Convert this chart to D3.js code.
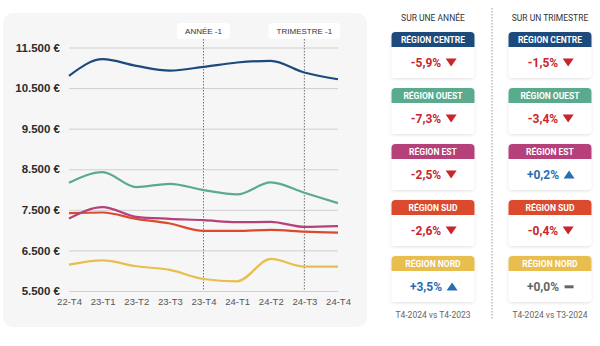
<!DOCTYPE html>
<html>
<head>
<meta charset="utf-8">
<script src="https://cdnjs.cloudflare.com/ajax/libs/d3/7.8.5/d3.min.js"></script>
<style>
  html, body { margin: 0; padding: 0; background: #fff; }
  svg { display: block; }
  .tick line { stroke: #cfcfcf; }
  .domain { display: none; }
</style>
</head>
<body>
<div id="chart"></div>
<script>
var quarters = ['22-T4', '23-T1', '23-T2', '23-T3', '23-T4', '24-T1', '24-T2', '24-T3', '24-T4'];
var yTicks = [5500, 6500, 7500, 8500, 9500, 10500, 11500];

var centre = [10800, 11212, 11047, 10932, 11023, 11130, 11171, 10883, 10718];
var ouest  = [8167, 8430, 8060, 8142, 7986, 7879, 8175, 7920, 7665];
var est    = [7286, 7566, 7327, 7278, 7245, 7195, 7204, 7080, 7097];
var sud    = [7418, 7434, 7278, 7163, 6981, 6981, 7006, 6965, 6940];
var nord   = [6150, 6257, 6109, 6019, 5796, 5739, 6290, 6101, 6101];

var regions = ['RÉGION CENTRE', 'RÉGION OUEST', 'RÉGION EST', 'RÉGION SUD', 'RÉGION NORD'];
var regionColors = ['#1c4a7c', '#5aab8e', '#b5407a', '#dc4a2d', '#e8be4e'];
var evolAnnee = [-5.9, -7.3, -2.5, -2.6, 3.5];
var evolTrimestre = [-1.5, -3.4, 0.2, -0.4, 0.0];

var markers = [
  { quarter: '23-T4', label: 'ANNÉE -1' },
  { quarter: '24-T3', label: 'TRIMESTRE -1' }
];

var W = 600, H = 346;
var svg = d3.select('#chart').append('svg').attr('width', W).attr('height', H);

// Left panel
svg.append('rect')
  .attr('x', 3).attr('y', 13).attr('width', 364).attr('height', 314)
  .attr('rx', 10).attr('fill', '#f6f6f6');

var x = d3.scalePoint().domain(quarters).range([69, 338]);
var y = d3.scaleLinear().domain([5500, 11500]).range([291, 47.5]);

var fmt = d3.formatLocale({ decimal: ',', thousands: '.', grouping: [3], currency: ['', ' €'] }).format('$,');

var yAxis = svg.append('g')
  .attr('transform', 'translate(69,0)')
  .call(d3.axisLeft(y).tickValues(yTicks).tickSize(-269).tickPadding(9).tickFormat(fmt));
yAxis.selectAll('text')
  .attr('fill', '#2b2b2b')
  .style('font-family', '"Liberation Sans", Arial, sans-serif')
  .style('font-size', '11.5px')
  .style('font-weight', 'bold');

var xAxis = svg.append('g')
  .attr('transform', 'translate(0,291)')
  .call(d3.axisBottom(x).tickSize(0).tickPadding(7));
xAxis.selectAll('text')
  .attr('fill', '#555')
  .style('font-family', '"Liberation Sans", Arial, sans-serif')
  .style('font-size', '9.5px');

// Reference markers
markers.forEach(function(m) {
  var mx = x(m.quarter);
  svg.append('line')
    .attr('x1', mx).attr('x2', mx).attr('y1', 39).attr('y2', 291)
    .attr('stroke', '#777').attr('stroke-width', 1).attr('stroke-dasharray', '1.5,1.5');
  var t = svg.append('text')
    .attr('x', mx).attr('y', 34)
    .attr('text-anchor', 'middle')
    .attr('fill', '#333')
    .style('font-family', '"Liberation Sans", Arial, sans-serif')
    .style('font-size', '8px')
    .text(m.label);
  var w = t.node().getComputedTextLength() + 16;
  svg.insert('rect', function() { return t.node(); })
    .attr('x', mx - w / 2).attr('y', 23).attr('width', w).attr('height', 16)
    .attr('rx', 4).attr('fill', '#fff');
});

var line = d3.line()
  .x(function(d, i) { return x(quarters[i]); })
  .y(function(d) { return y(d); })
  .curve(d3.curveMonotoneX);

[centre, ouest, sud, est, nord].forEach(function(series, k) {
  var colorIdx = [0, 1, 3, 2, 4][k];
  svg.append('path')
    .datum(series)
    .attr('d', line)
    .attr('fill', 'none')
    .attr('stroke', regionColors[colorIdx])
    .attr('stroke-width', 2.2)
    .attr('stroke-linejoin', 'round');
});

// Right panel: variation cards
var defs = svg.append('defs');
var shadow = defs.append('filter').attr('id', 'shadow')
  .attr('x', '-20%').attr('y', '-20%').attr('width', '140%').attr('height', '150%');
shadow.append('feDropShadow')
  .attr('dx', 0).attr('dy', 1).attr('stdDeviation', 1.5)
  .attr('flood-color', '#000').attr('flood-opacity', 0.12);

svg.append('line')
  .attr('x1', 492).attr('x2', 492).attr('y1', 8).attr('y2', 320)
  .attr('stroke', '#999').attr('stroke-width', 1).attr('stroke-dasharray', '1.5,1.5');

var columns = [
  { cx: 433, title: 'SUR UNE ANNÉE', values: evolAnnee, footer: 'T4-2024 vs T4-2023' },
  { cx: 550, title: 'SUR UN TRIMESTRE', values: evolTrimestre, footer: 'T4-2024 vs T3-2024' }
];

var cardW = 83, cardH = 46, headH = 15, cardTop = 32, cardStep = 56;
var font = 'Roboto, "Noto Sans", sans-serif';

columns.forEach(function(col) {
  svg.append('text')
    .attr('x', col.cx).attr('y', 21)
    .attr('text-anchor', 'middle')
    .attr('fill', '#333')
    .style('font-family', font)
    .style('font-size', '8.5px')
    .text(col.title);

  regions.forEach(function(name, i) {
    var top = cardTop + i * cardStep;
    var left = col.cx - cardW / 2;
    var g = svg.append('g');
    g.append('rect')
      .attr('x', left).attr('y', top).attr('width', cardW).attr('height', cardH)
      .attr('rx', 4).attr('fill', '#fff').attr('filter', 'url(#shadow)');
    g.append('path')
      .attr('d', 'M' + left + ',' + (top + headH) + 'V' + (top + 4) +
        'a4,4 0 0 1 4,-4H' + (left + cardW - 4) + 'a4,4 0 0 1 4,4V' + (top + headH) + 'Z')
      .attr('fill', regionColors[i]);
    g.append('text')
      .attr('x', col.cx).attr('y', top + 10.8)
      .attr('text-anchor', 'middle')
      .attr('fill', '#fff')
      .style('font-family', font)
      .style('font-size', '8.5px')
      .style('font-weight', 'bold')
      .text(name);

    var v = col.values[i];
    var color = v < 0 ? '#c8262a' : (v > 0 ? '#2a6db5' : '#666');
    var label = (v < 0 ? '-' : '+') + d3.format('.1f')(Math.abs(v)).replace('.', ',') + '%';
    var vt = g.append('text')
      .attr('x', col.cx - 7).attr('y', top + 34.5)
      .attr('text-anchor', 'middle')
      .attr('fill', color)
      .style('font-family', font)
      .style('font-size', '12px')
      .style('font-weight', 'bold')
      .text(label);
    var tw = vt.node().getComputedTextLength();
    var ax = col.cx - 7 + tw / 2 + 10, ay = top + 30.5;
    var icon;
    if (v < 0) icon = 'M' + (ax - 5.5) + ',' + (ay - 4) + 'h11l-5.5,8z';
    else if (v > 0) icon = 'M' + (ax - 5.5) + ',' + (ay + 4) + 'h11l-5.5,-8z';
    else icon = 'M' + (ax - 4.5) + ',' + (ay - 1.2) + 'h9v3h-9z';
    g.append('path').attr('d', icon).attr('fill', color);
  });

  svg.append('text')
    .attr('x', col.cx).attr('y', 318)
    .attr('text-anchor', 'middle')
    .attr('fill', '#666')
    .style('font-family', font)
    .style('font-size', '8.5px')
    .text(col.footer);
});
</script>
</body>
</html>
